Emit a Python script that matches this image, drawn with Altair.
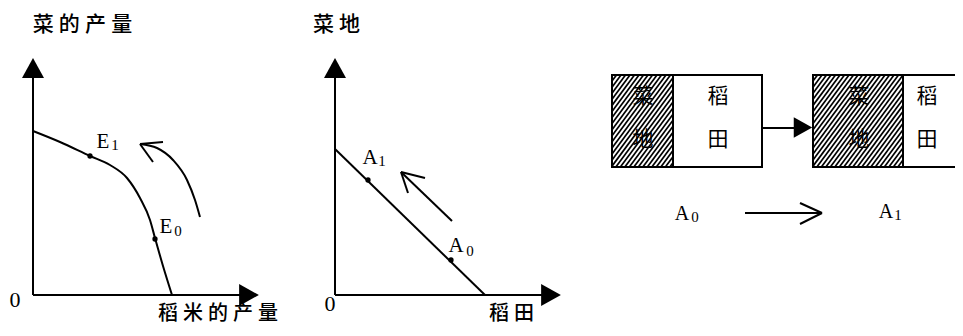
import altair as alt
import numpy as np
import pandas as pd

# ---- canvas frame: units are reference pixels ----
X_DOMAIN = [8, 955]
Y_DOMAIN = [8, 328]

# ---- Panel 1: production possibility curve ----
ppf_x = [33, 60, 90, 110, 127, 140, 150, 155, 163, 172]
ppf_y = [131, 142, 156, 165, 178, 198, 220, 238, 266, 295]
# curved arrow (E0 -> E1 direction)
carrow_x = [140, 157, 173, 187, 195, 200]
carrow_y = [144, 148, 160, 180, 200, 217]
E_pts_x = [90, 155]
E_pts_y = [156, 239]

# ---- Panel 2: land allocation line ----
land_x = [335, 485]
land_y = [149, 295]
A_pts_x = [368, 451]
A_pts_y = [180, 260]

# straight segments: x, y, x2, y2
seg_x1 = [33, 33, 335, 335, 452, 401, 401, 140, 140, 762, 745, 822, 822]
seg_y1 = [295, 295, 295, 295, 221, 172, 172, 144, 144, 128, 213, 213, 213]
seg_x2 = [33, 240, 335, 542, 401, 425, 408, 163, 153, 795, 822, 800, 800]
seg_y2 = [76, 295, 76, 295, 172, 178, 193, 142, 162, 128, 213, 203, 224]

# filled arrow heads
head_x = [33, 249, 335, 551, 803]
head_y = [68, 295, 68, 295, 127.5]
head_dir = ["up", "right", "up", "right", "right"]
head_size = [484, 484, 484, 484, 420]

# ---- Panel 3: boxes ----
box_x1 = [612, 813]
box_x2 = [762, 980]
box_y1 = [75, 75]
box_y2 = [167, 167]
box_div = [673, 903]

# labels
cjk_text = ["菜的产量", "稻米的产量", "菜地", "稻田"]
cjk_x = [82.5, 218, 336.5, 511.5]
cjk_y = [25, 314, 25, 314]
cjk_fs = [21, 20, 21, 20]

box_text = ["菜", "地", "稻", "田", "菜", "地", "稻", "田"]
box_tx = [643, 643, 718, 718, 859, 859, 927, 927]
box_ty = [97, 140, 97, 140, 97, 140, 97, 140]

lat_text = ["0", "E", "E", "0", "A", "A", "A", "A"]
lat_x = [15, 103, 166, 330, 370, 456, 682, 886]
lat_y = [300, 142, 227, 304, 158, 246, 214, 212]
lat_fs = [22, 21, 21, 22, 21, 21, 20, 20]

sub_text = ["1", "0", "1", "0", "0", "1"]
sub_x = [115, 178, 382, 470, 695, 898]
sub_y = [145, 231, 161, 251, 217, 215]

# ---------------- build tables ----------------
def spaced(s):
    return "\u2005".join(s)

shape_paths = {"up": "M0,-0.9L-1,0.9L1,0.9Z", "right": "M0.9,0L-0.9,-1L-0.9,1Z"}

xs = alt.Scale(domain=X_DOMAIN, nice=False, zero=False)
ys = alt.Scale(domain=Y_DOMAIN, nice=False, zero=False, reverse=True)

def X(f="x"):
    return alt.X(f + ":Q", scale=xs, axis=None)

def Y(f="y"):
    return alt.Y(f + ":Q", scale=ys, axis=None)

curves = pd.DataFrame({
    "x": ppf_x + carrow_x,
    "y": ppf_y + carrow_y,
    "id": ["ppf"] * len(ppf_x) + ["arrow"] * len(carrow_x),
    "k": list(range(len(ppf_x))) + list(range(len(carrow_x))),
})
segs = pd.DataFrame({"x": seg_x1 + [land_x[0]], "y": seg_y1 + [land_y[0]],
                     "x2": seg_x2 + [land_x[1]], "y2": seg_y2 + [land_y[1]]})
heads = pd.DataFrame({"x": head_x, "y": head_y,
                      "shape": [shape_paths[d] for d in head_dir], "size": head_size})
dots = pd.DataFrame({"x": E_pts_x + A_pts_x, "y": E_pts_y + A_pts_y})

boxes = pd.DataFrame({"x": box_x1, "x2": box_x2, "y": box_y1, "y2": box_y2})
dividers = pd.DataFrame({"x": box_div, "y": box_y1, "y2": box_y2})

# hatch pattern (decoration) for the 菜地 parts
hx1, hy1, hx2, hy2 = [], [], [], []
slope, gap = 1.35, 4.5
for x0, x1, y0, y1 in zip(box_x1, box_div, box_y1, box_y2):
    run = (y1 - y0) / slope
    c = x0 - run
    while c < x1:
        a = max(x0, c)
        b = min(x1, c + run)
        if b > a:
            hx1.append(a); hy1.append(y1 - slope * (a - c))
            hx2.append(b); hy2.append(y1 - slope * (b - c))
        c += gap
hatch = pd.DataFrame({"x": hx1, "y": hy1, "x2": hx2, "y2": hy2})

cjk = pd.DataFrame({"t": [spaced(s) for s in cjk_text], "x": cjk_x, "y": cjk_y, "fs": cjk_fs})
boxt = pd.DataFrame({"t": box_text, "x": box_tx, "y": box_ty})
lat = pd.DataFrame({"t": lat_text, "x": lat_x, "y": lat_y, "fs": lat_fs})
sub = pd.DataFrame({"t": sub_text, "x": sub_x, "y": sub_y})

# ---------------- layers ----------------
box_fill = alt.Chart(boxes).mark_rect(fill="white", stroke=None).encode(
    x=X(), x2="x2", y=Y(), y2="y2")
hatch_l = alt.Chart(hatch).mark_rule(color="black", strokeWidth=1.7).encode(
    x=X(), y=Y(), x2="x2", y2="y2")
box_tl = alt.Chart(boxt).mark_text(font="Noto Sans CJK SC", fontSize=21, color="black",
                                   align="center", baseline="middle").encode(
    x=X(), y=Y(), text="t:N")
box_border = alt.Chart(boxes).mark_rect(fillOpacity=0, stroke="black", strokeWidth=2).encode(
    x=X(), x2="x2", y=Y(), y2="y2")
div_l = alt.Chart(dividers).mark_rule(color="black", strokeWidth=2).encode(
    x=X(), y=Y(), y2="y2")

seg_l = alt.Chart(segs).mark_rule(color="black", strokeWidth=2).encode(
    x=X(), y=Y(), x2="x2", y2="y2")
curve_l = alt.Chart(curves).mark_line(color="black", strokeWidth=2, interpolate="monotone").encode(
    x=X(), y=Y(), detail="id:N", order="k:Q")
head_l = alt.Chart(heads).mark_point(filled=True, color="black", opacity=1, strokeWidth=0).encode(
    x=X(), y=Y(), shape=alt.Shape("shape:N", scale=None), size=alt.Size("size:Q", scale=None))
dot_l = alt.Chart(dots).mark_circle(color="black", size=28, opacity=1).encode(x=X(), y=Y())

cjk_l = alt.Chart(cjk).mark_text(font="Noto Sans CJK SC", fontWeight=500, color="black",
                                 align="center", baseline="middle").encode(
    x=X(), y=Y(), text="t:N", size=alt.Size("fs:Q", scale=None))
lat_l = alt.Chart(lat).mark_text(font="Liberation Serif", color="black",
                                 align="center", baseline="middle").encode(
    x=X(), y=Y(), text="t:N", size=alt.Size("fs:Q", scale=None))
sub_l = alt.Chart(sub).mark_text(font="Liberation Serif", fontSize=15, color="black",
                                 align="center", baseline="middle").encode(
    x=X(), y=Y(), text="t:N")

chart = alt.layer(
    box_fill, hatch_l, box_tl, box_border, div_l,
    seg_l, curve_l, head_l, dot_l, cjk_l, lat_l, sub_l,
).properties(
    width=947, height=320, padding=0, autosize=alt.AutoSizeParams(type="none"),
    background="white",
).configure_view(stroke=None)

chart.save("out.html", embed_options={"renderer": "svg", "actions": False})
